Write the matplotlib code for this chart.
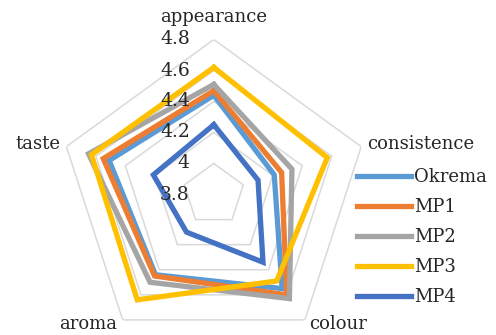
import numpy as np
import matplotlib.pyplot as plt

plt.rcParams['font.family'] = ['DejaVu Serif']

categories = ['appearance', 'consistence', 'colour', 'aroma', 'taste']
series_names = ['Okrema', 'MP1', 'MP2', 'MP3', 'MP4']
okrema = [4.44, 4.21, 4.55, 4.44, 4.51]
mp1 = [4.47, 4.26, 4.60, 4.45, 4.55]
mp2 = [4.51, 4.33, 4.63, 4.50, 4.65]
mp3 = [4.62, 4.57, 4.49, 4.64, 4.63]
mp4 = [4.25, 4.10, 4.34, 4.10, 4.21]
r_ticks = [3.8, 4.0, 4.2, 4.4, 4.6, 4.8]
tick_labels = ['3.8', '4', '4.2', '4.4', '4.6', '4.8']

colors = ['#5B9BD5', '#ED7D31', '#A5A5A5', '#FFC000', '#4472C4']
text_color = '#262626'

W, H = 496, 335
fig = plt.figure(figsize=(W / 100, H / 100), dpi=100)
cx, cy, R = 213.8, 194.5, 155
ax = fig.add_axes([(cx - R) / W, (H - cy - R) / H, 2 * R / W, 2 * R / H],
                  projection='polar')
ax.set_theta_offset(np.pi / 2)
ax.set_theta_direction(-1)
ax.set_ylim(r_ticks[0], r_ticks[-1])
ax.grid(False)
ax.spines['polar'].set_visible(False)
ax.set_xticks([])
ax.set_yticks([])
ax.patch.set_alpha(0)

theta = np.linspace(0, 2 * np.pi, len(categories), endpoint=False)
theta_c = np.append(theta, theta[0])

# pentagon gridlines
for lvl in r_ticks[1:]:
    ax.plot(theta_c, [lvl] * len(theta_c), color='#D9D9D9', lw=1.1,
            solid_joinstyle='miter', zorder=1)

# value labels along the top axis
for lvl, lab in zip(r_ticks, tick_labels):
    ax.annotate(lab, xy=(0, lvl), xytext=(-24, 0), textcoords='offset pixels',
                ha='right', va='center', fontsize=13.5, color=text_color,
                zorder=5)

# category labels
label_offsets = [(0, 22, 'center'), (6, 3, 'left'), (33, -4, 'center'),
                 (-35, -4, 'center'), (-6, 3, 'right')]
for t, cat, (dx, dy, ha) in zip(theta, categories, label_offsets):
    ax.annotate(cat, xy=(t, r_ticks[-1]), xytext=(dx, dy),
                textcoords='offset pixels', ha=ha, va='center',
                fontsize=13, color=text_color, annotation_clip=False)

for name, vals, col in zip(series_names, [okrema, mp1, mp2, mp3, mp4], colors):
    ax.plot(theta_c, vals + vals[:1], color=col, lw=3.8, label=name,
            solid_joinstyle='miter', zorder=3)

handles, labels = ax.get_legend_handles_labels()
leg = fig.legend(handles, labels, loc='center left',
                 bbox_to_anchor=(357 / W, (H - 237) / H), frameon=False,
                 fontsize=13, handlelength=3.0, handletextpad=0.15,
                 labelspacing=0.66, borderpad=0, borderaxespad=0)
for txt in leg.get_texts():
    txt.set_color(text_color)

fig.savefig('out.png', dpi=100)
